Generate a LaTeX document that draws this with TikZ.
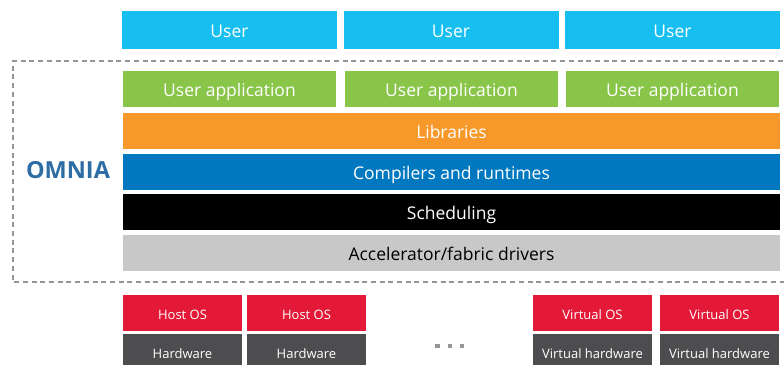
\documentclass[tikz,border=0pt]{standalone}
\usepackage{fontspec}
\setmainfont{Open Sans}
\usetikzlibrary{positioning}
\definecolor{usercyan}{HTML}{16BFEF}
\definecolor{appgreen}{HTML}{88C548}
\definecolor{liborange}{HTML}{F6982A}
\definecolor{compblue}{HTML}{0078C0}
\definecolor{drvgray}{HTML}{C7C8C7}
\definecolor{osred}{HTML}{E31937}
\definecolor{hwgray}{HTML}{4D4D4F}
\definecolor{dashgray}{HTML}{959595}
\definecolor{omniablue}{HTML}{2E6DA4}
\begin{document}
\begin{tikzpicture}[x=1pt,y=-1pt,
    layer/.style={inner sep=0pt,minimum height=36pt,text height=15pt,text depth=0pt,
        font=\fontsize{17.5}{19}\selectfont,text=white},
    userbox/.style={layer,fill=usercyan,minimum width=215pt,minimum height=38pt},
    appbox/.style={layer,fill=appgreen,minimum width=213pt},
    fullbox/.style={layer,minimum width=657pt},
    osbox/.style={layer,fill=osred,minimum width=119pt,text height=12pt,
        font=\fontsize{13}{14}\selectfont},
    hwbox/.style={osbox,fill=hwgray},
    dotbox/.style={fill=dashgray,inner sep=0pt,minimum size=4.5pt}]
            \useasboundingbox (0,0) rectangle (784,364);
            \clip (0,0) rectangle (784,364);

            % users
            \node[userbox] (user1) at (229.5,30){User};
            \node[userbox] (user2) at (451,30){User};
            \node[userbox] (user3) at (672.5,30){User};

            % omnia frame
            \draw[dashgray,line width=2.6pt,dash pattern=on 5pt off 3.7pt] (800,61) -- (13,61) -- (13,282) -- (800,282);
            \node[font=\fontsize{23.5}{26}\selectfont\bfseries,text=omniablue] (omnia) at (68,170){OMNIA};

            % software stack
            \node[appbox] (app1) at (229.5,89){User application};
            \node[appbox] (app2) at (451.5,89){User application};
            \node[appbox] (app3) at (672.5,89){User application};
            \node[fullbox,fill=liborange] (libs) at (451.5,131){Libraries};
            \node[fullbox,fill=compblue] (comp) at (451.5,172){Compilers and runtimes};
            \node[fullbox,fill=black] (sched) at (451.5,212){Scheduling};
            \node[fullbox,fill=drvgray,text=black] (drivers) at (451.5,253){Accelerator/fabric drivers};

            % hosts
            \node[osbox] (os1) at (182.5,313){Host OS};
            \node[osbox] (os2) at (306.5,313){Host OS};
            \node[osbox] (vos1) at (592.5,313){Virtual OS};
            \node[osbox] (vos2) at (719.5,313){Virtual OS};
            \node[hwbox] (hw1) at (182.5,352){Hardware};
            \node[hwbox] (hw2) at (306.5,352){Hardware};
            \node[hwbox] (vhw1) at (592.5,352){Virtual hardware};
            \node[hwbox] (vhw2) at (719.5,352){Virtual hardware};
            \node[dotbox] (dot1) at (437.5,346){};
            \node[dotbox] (dot2) at (450,346){};
            \node[dotbox] (dot3) at (462,346){};
        \end{tikzpicture}
\end{document}
